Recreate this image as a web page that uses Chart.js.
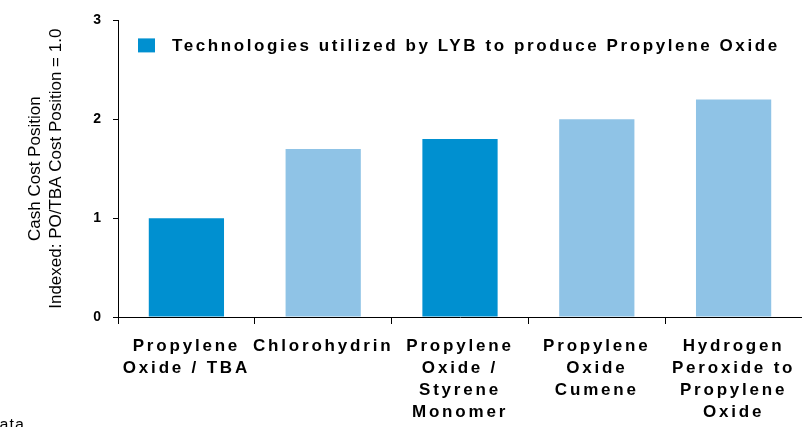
<!DOCTYPE html>
<html>
<head>
<meta charset="utf-8">
<script src="https://cdn.jsdelivr.net/npm/chart.js@4.4.1/dist/chart.umd.min.js"></script>
<style>
    html, body { margin: 0; padding: 0; background: #fff; }
    #wrap { width: 802px; height: 427px; position: relative; }
</style>
</head>
<body>
<div id="wrap"><canvas id="costChart"></canvas></div>
<script>
// chart data
const technologies = [
    ['Propylene', 'Oxide / TBA'],
    ['Chlorohydrin'],
    ['Propylene', 'Oxide /', 'Styrene', 'Monomer'],
    ['Propylene', 'Oxide', 'Cumene'],
    ['Hydrogen', 'Peroxide to', 'Propylene', 'Oxide']
];
const cashCostIndex = [1.0, 1.7, 1.8, 2.0, 2.2];
const usedByLYB = [true, false, true, false, false];
const yTickValues = [0, 1, 2, 3];
const legendText = 'Technologies utilized by LYB to produce Propylene Oxide';
const yTitle = ['Cash Cost Position', 'Indexed: PO/TBA Cost Position = 1.0'];
const sourceNote = 'Data';

const DARK = '#0090d0';
const LIGHT = '#8fc3e6';
const FONT = '"Liberation Sans", Arial, sans-serif';

Chart.defaults.font.family = FONT;

// wide letter spacing for the category labels, legend drawn inside the plot
const decorations = {
    id: 'decorations',
    beforeDraw(chart) {
        const x = chart.scales.x;
        if (x && !x._spaced) {
            const drawLabels = x.drawLabels;
            x.drawLabels = function (area) {
                const c = this.ctx;
                c.letterSpacing = '2.8px';
                drawLabels.call(this, area);
                c.letterSpacing = '0px';
            };
            x._spaced = true;
        }
    },
    afterDraw(chart) {
        const { ctx, chartArea } = chart;
        const ds = chart.data.datasets[0];
        ctx.save();
        ctx.fillStyle = DARK;
        ctx.fillRect(chartArea.left + 20, chartArea.top + 18, 17, 14);
        ctx.font = 'bold 17px ' + FONT;
        ctx.letterSpacing = '2.6px';
        ctx.fillStyle = '#000';
        ctx.textBaseline = 'middle';
        ctx.fillText(ds.label, chartArea.left + 54, chartArea.top + 26);
        // cut-off source note at the bottom left
        ctx.letterSpacing = '1px';
        ctx.font = '16px ' + FONT;
        ctx.textBaseline = 'alphabetic';
        ctx.fillText(sourceNote, -13, 430);
        ctx.restore();
    }
};

new Chart(document.getElementById('costChart'), {
    type: 'bar',
    data: {
        labels: technologies,
        datasets: [{
            label: legendText,
            data: cashCostIndex,
            backgroundColor: usedByLYB.map(u => u ? DARK : LIGHT),
            borderWidth: 0,
            barPercentage: 0.55,
            categoryPercentage: 1
        }]
    },
    options: {
        responsive: true,
        maintainAspectRatio: false,
        animation: false,
        layout: { padding: { top: 18, right: 0, bottom: 0, left: 0 } },
        plugins: {
            legend: { display: false },
            tooltip: { enabled: false }
        },
        scales: {
            x: {
                grid: { drawOnChartArea: false, tickLength: 7, color: '#000', offset: true },
                border: { color: '#000' },
                ticks: {
                    color: '#000',
                    font: { size: 17, weight: 'bold', lineHeight: 1.3 },
                    padding: 11,
                    maxRotation: 0,
                    minRotation: 0,
                    autoSkip: false
                },
                afterFit(scale) { scale.height = 110; }
            },
            y: {
                min: 0,
                max: 3,
                afterBuildTicks(scale) { scale.ticks = yTickValues.map(v => ({ value: v })); },
                grid: { drawOnChartArea: false, tickLength: 5, color: '#000' },
                border: { color: '#000' },
                ticks: { color: '#000', font: { size: 14, weight: 'bold' }, padding: 12 },
                title: {
                    display: true,
                    text: yTitle,
                    color: '#000',
                    font: { size: 17, lineHeight: 1.235 },
                    padding: { top: 25, bottom: 0 }
                },
                afterFit(scale) { scale.width = 118; }
            }
        }
    },
    plugins: [decorations]
});
</script>
</body>
</html>
